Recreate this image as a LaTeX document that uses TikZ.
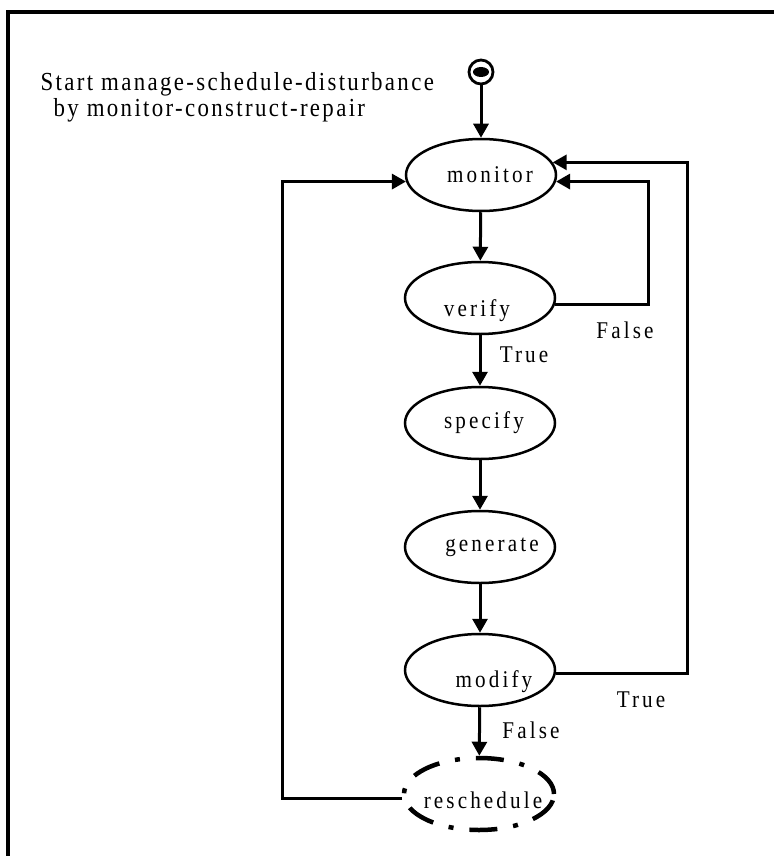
\documentclass[tikz,border=0pt]{standalone}
\usepackage{fontspec}
\setmainfont{Liberation Serif}
\newfontfamily\lblfont{Liberation Serif}[FakeStretch=0.88,LetterSpace=13]
\newfontfamily\startfont{Liberation Serif}[FakeStretch=0.88,LetterSpace=9]
\usetikzlibrary{shapes.geometric,arrows.meta}
\begin{document}
\begin{tikzpicture}[x=1pt,y=-1pt,
 every node/.style={font=\lblfont\fontsize{24}{28}\selectfont},
 starttext/.style={font=\startfont\fontsize{26}{30}\selectfont,anchor=base west},
 state/.style={ellipse,draw,line width=2.5pt,minimum width=150pt,minimum height=72pt,inner sep=0pt},
 dstate/.style={state,line width=4.5pt,dash pattern=on 28pt off 16pt on 5pt off 16pt},
 flow/.style={line width=3pt,-{Triangle[length=14pt,width=15pt]}},
 frame/.style={line width=3.5pt}]
\useasboundingbox (0,0) rectangle (774,856);
\draw[frame] (8,856) -- (8,12) -- (774,12);

\node[circle,draw,line width=2.8pt,minimum size=24pt,inner sep=0pt] (start) at (481,72) {};
\fill (start.center) ellipse (8 and 5);

\node[starttext] (s1) at (37,91) {Start manage-schedule-disturbance};
\node[starttext] (s2) at (50,117) {by monitor-construct-repair};

\node[state,label={[xshift=9pt]center:monitor}] (monitor) at (481,175) {};
\node[state,label={[xshift=-3pt,yshift=-13pt]center:verify}] (verify) at (480,298) {};
\node[state,label={[xshift=4pt]center:specify}] (specify) at (480,423) {};
\node[state,label={[xshift=12pt]center:generate}] (generate) at (480,547) {};
\node[state,label={[xshift=14pt,yshift=-12pt]center:modify}] (modify) at (480,670) {};
\node[dstate,label={[xshift=4pt,yshift=-6pt]center:reschedule}] (reschedule) at (479,794) {};

\draw[flow] (start) -- (monitor);
\draw[flow] (monitor) -- (verify);
\draw[flow] (verify) -- (specify);
\draw[flow] (specify) -- (generate);
\draw[flow] (generate) -- (modify);
\draw[flow] (modify) -- (reschedule);

\draw[flow] (verify.-5) -- ++(93,0) |- (monitor.-5);
\draw[flow] (modify.-3) -- ++(132,0) |- (monitor.10);
\draw[flow] (reschedule.183) -- ++(-120,0) |- (monitor.185);

\node (t1) at (524,355) {True};
\node (f1) at (625,330) {False};
\node (t2) at (641,700) {True};
\node (f2) at (531,730) {False};
\end{tikzpicture}
\end{document}
